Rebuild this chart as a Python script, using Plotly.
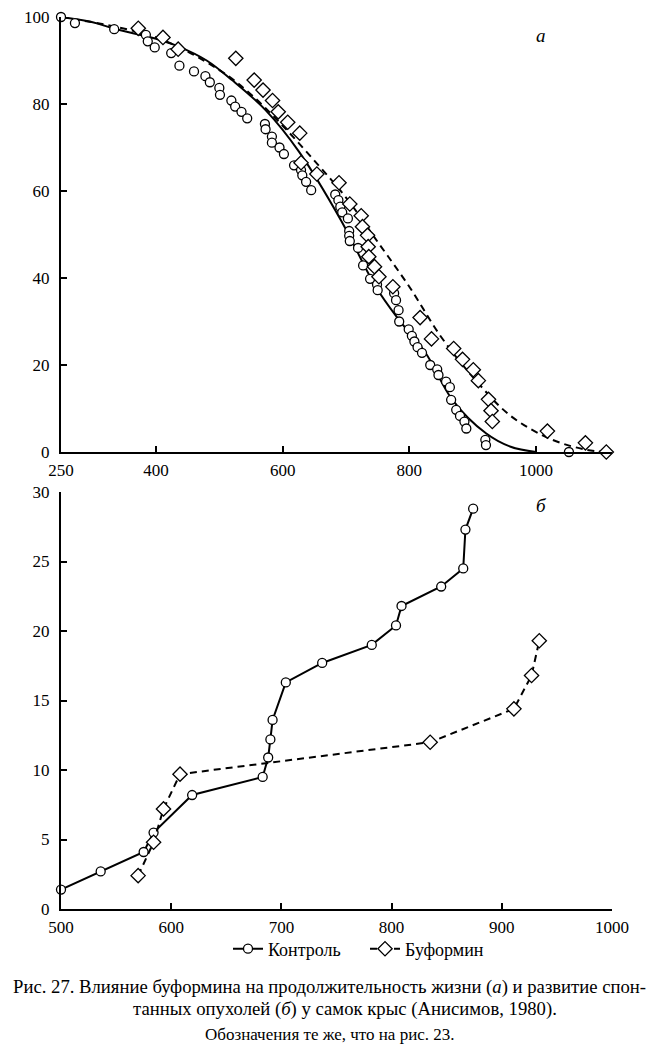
import plotly.graph_objects as go

# ---------- Panel а: survival, % ----------
ctrl_surv_x = [250, 272, 334, 384, 387, 398, 424, 437, 460, 478, 485, 500, 501, 519, 525, 535, 544,
               572, 573, 583, 583, 595, 602, 618, 629, 631, 637, 645, 683, 688, 691, 694, 703, 705,
               705, 706, 719, 727, 738, 749, 750, 776, 779, 783, 784, 799, 804, 808, 813, 820, 833,
               844, 846, 858, 864, 866, 874, 880, 887, 890, 920, 921, 1052]
ctrl_surv_y = [100, 98.6, 97.2, 95.9, 94.4, 93.0, 91.7, 88.8, 87.5, 86.4, 85.0, 83.7, 82.1, 80.8, 79.4,
               78.2, 76.7, 75.4, 74.2, 72.5, 71.1, 70.0, 68.5, 65.9, 64.8, 63.6, 62.1, 60.2, 59.2, 57.9,
               56.4, 55.1, 53.7, 50.8, 49.7, 48.5, 46.9, 42.9, 39.8, 38.5, 37.2, 36.5, 34.9, 32.6, 30.0,
               28.2, 26.7, 25.4, 24.1, 22.8, 20.0, 19.0, 17.7, 16.2, 14.9, 12.0, 9.7, 8.3, 7.0, 5.4,
               2.8, 1.6, 0]

buf_surv_x = [372, 411, 435, 526, 555, 569, 584, 593, 608, 627, 629, 654, 689, 706, 724, 726, 734,
              735, 736, 745, 752, 774, 817, 835, 870, 884, 901, 909, 925, 929, 931, 1018, 1078, 1111]
buf_surv_y = [97.4, 95.3, 92.6, 90.5, 85.5, 83.2, 80.8, 78.2, 75.8, 73.3, 66.5, 63.9, 61.9, 57.0, 54.3,
              51.8, 49.8, 47.2, 44.9, 42.6, 40.3, 38.0, 30.9, 26.0, 23.8, 21.3, 18.9, 16.4, 12.1, 9.5,
              7.0, 4.8, 2.1, 0]

# fitted curves as drawn in the figure
ctrl_curve_x = [250, 300, 334, 400, 436, 480, 520, 573, 626, 692, 747, 784, 826, 868, 921, 960, 1000]
ctrl_curve_y = [100, 98.8, 97.3, 95.0, 93.2, 90.0, 85.5, 78.6, 69.0, 53.3, 38.0, 30.3, 22.7, 12.0, 4.3, 1.2, 0]
buf_curve_x = [250, 400, 500, 550, 600, 650, 700, 750, 800, 850, 900, 960, 1026, 1080, 1110]
buf_curve_y = [100, 95.3, 87.8, 82.2, 75.0, 67.0, 58.5, 48.3, 38.0, 26.5, 17.3, 8.3, 2.8, 0.5, 0]

# ---------- Panel б: tumours ----------
ctrl_tum_x = [500, 536, 575, 584, 619, 683, 688, 690, 692, 704, 737, 782, 804, 809, 845, 865, 867, 874]
ctrl_tum_y = [1.4, 2.7, 4.1, 5.5, 8.2, 9.5, 10.9, 12.2, 13.6, 16.3, 17.7, 19.0, 20.4, 21.8, 23.2, 24.5, 27.3, 28.8]
buf_tum_x = [570, 584, 593, 608, 835, 911, 927, 934]
buf_tum_y = [2.4, 4.8, 7.2, 9.7, 12.0, 14.4, 16.8, 19.3]

top_xticks = [250, 400, 600, 800, 1000]
top_yticks = [0, 20, 40, 60, 80, 100]
bot_xticks = [500, 600, 700, 800, 900, 1000]
bot_yticks = [0, 5, 10, 15, 20, 25, 30]

names = ["Контроль", "Буформин"]
caption1 = "Рис. 27. Влияние буформина на продолжительность жизни (<i>а</i>) и развитие спон-"
caption2 = "танных опухолей (<i>б</i>) у самок крыс (Анисимов, 1980)."
caption3 = "Обозначения те же, что на рис. 23."

SERIF = "Liberation Serif, Times New Roman, serif"

W, H = 652, 1039          # page body has an 8px margin
OFF = 8


def py(y_ref):
    return 1 - (y_ref - OFF) / H


def px(x_ref):
    return (x_ref - 61) / 551


fig = go.Figure()
# top panel
fig.add_trace(go.Scatter(x=ctrl_curve_x, y=ctrl_curve_y, mode="lines", line=dict(color="black", width=2, shape="spline"),
                         xaxis="x", yaxis="y", showlegend=False, cliponaxis=False))
fig.add_trace(go.Scatter(x=buf_curve_x, y=buf_curve_y, mode="lines",
                         line=dict(color="black", width=2, shape="spline", dash="7px,5px"),
                         xaxis="x", yaxis="y", showlegend=False, cliponaxis=False))
fig.add_trace(go.Scatter(x=ctrl_surv_x, y=ctrl_surv_y, mode="markers",
                         marker=dict(symbol="circle", size=9, color="white", line=dict(width=1.3, color="black")),
                         xaxis="x", yaxis="y", showlegend=False, cliponaxis=False))
fig.add_trace(go.Scatter(x=buf_surv_x, y=buf_surv_y, mode="markers",
                         marker=dict(symbol="diamond", size=11, color="white", line=dict(width=1.3, color="black")),
                         xaxis="x", yaxis="y", showlegend=False, cliponaxis=False))
# bottom panel
fig.add_trace(go.Scatter(x=ctrl_tum_x, y=ctrl_tum_y, mode="lines+markers", name=names[0],
                         line=dict(color="black", width=2),
                         marker=dict(symbol="circle", size=9, color="white", line=dict(width=1.3, color="black")),
                         xaxis="x2", yaxis="y2", cliponaxis=False))
fig.add_trace(go.Scatter(x=buf_tum_x, y=buf_tum_y, mode="lines+markers", name=names[1],
                         line=dict(color="black", width=2, dash="7px,5px"),
                         marker=dict(symbol="diamond", size=11, color="white", line=dict(width=1.3, color="black")),
                         xaxis="x2", yaxis="y2", cliponaxis=False))

axis_common = dict(showline=True, linecolor="black", linewidth=2, ticks="inside", ticklen=6, tickwidth=1.5,
                   tickcolor="black", showgrid=False, zeroline=False, mirror=False, automargin=False,
                   ticklabeloverflow="allow",
                   tickfont=dict(family=SERIF, size=17, color="black"))

fig.update_layout(
    width=W, height=H,
    margin=dict(l=53, r=48, t=0, b=0, pad=0, autoexpand=False),
    paper_bgcolor="white", plot_bgcolor="white",
    font=dict(family=SERIF, color="black"),
    xaxis=dict(axis_common, domain=[0, 1], range=[250, 1120], tickvals=top_xticks, anchor="y", ticklabelstandoff=2),
    yaxis=dict(axis_common, domain=[py(452), py(17)], range=[0, 100], tickvals=top_yticks, anchor="x",
               ticklabelstandoff=6),
    xaxis2=dict(axis_common, domain=[0, 1], range=[500, 1000], tickvals=bot_xticks, anchor="y2", ticklabelstandoff=2),
    yaxis2=dict(axis_common, domain=[py(909), py(492)], range=[0, 30], tickvals=bot_yticks, anchor="x2",
                ticklabelstandoff=6),
    showlegend=True,
    legend=dict(orientation="h", x=px(228), xanchor="left", y=py(949), yanchor="middle",
                font=dict(family=SERIF, size=18, color="black"), entrywidth=92, entrywidthmode="pixels",
                bgcolor="rgba(0,0,0,0)", tracegroupgap=0),
    annotations=[
        dict(text="<i>а</i>", x=px(541), y=py(35), xref="paper", yref="paper", showarrow=False,
             xanchor="center", yanchor="middle", font=dict(family=SERIF, size=19, color="black")),
        dict(text="<i>б</i>", x=px(541), y=py(505), xref="paper", yref="paper", showarrow=False,
             xanchor="center", yanchor="middle", font=dict(family=SERIF, size=19, color="black")),
        dict(text=caption1, x=px(329), y=py(987), xref="paper", yref="paper", showarrow=False,
             xanchor="center", yanchor="middle", font=dict(family=SERIF, size=18.7, color="black")),
        dict(text=caption2, x=px(345), y=py(1009), xref="paper", yref="paper", showarrow=False,
             xanchor="center", yanchor="middle", font=dict(family=SERIF, size=18.7, color="black")),
        dict(text=caption3, x=px(330), y=py(1034), xref="paper", yref="paper", showarrow=False,
             xanchor="center", yanchor="middle", font=dict(family=SERIF, size=17, color="black")),
    ],
)

fig.write_html("out.html")
